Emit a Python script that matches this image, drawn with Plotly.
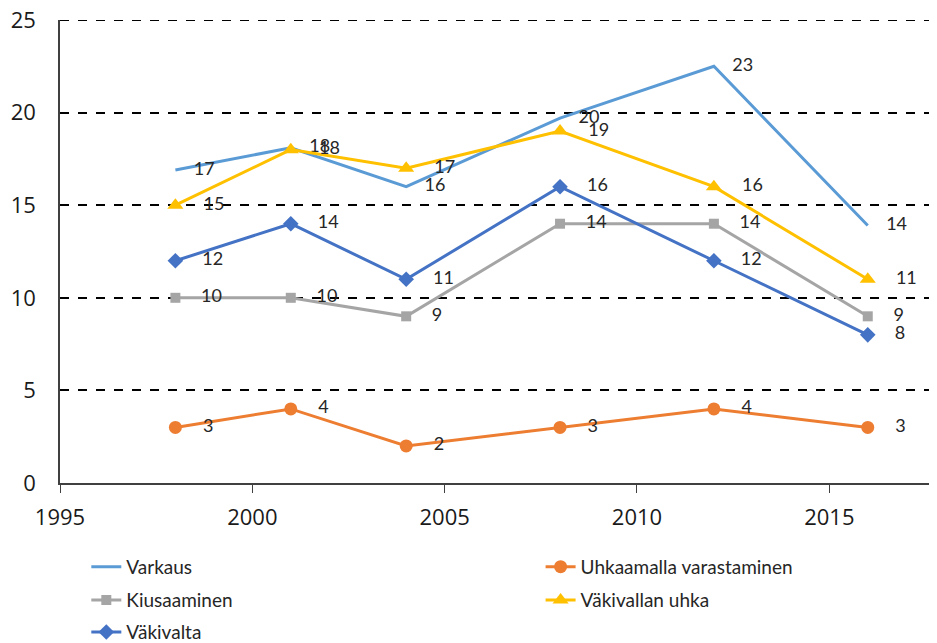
import plotly.graph_objects as go

years = [1998, 2001, 2004, 2008, 2012, 2016]

varkaus = [16.9, 18.1, 16.0, 19.7, 22.5, 13.9]
uhkaamalla = [3, 4, 2, 3, 4, 3]
kiusaaminen = [10, 10, 9, 14, 14, 9]
vakivallan_uhka = [15, 18, 17, 19, 16, 11]
vakivalta = [12, 14, 11, 16, 12, 8]

y_ticks = [0, 5, 10, 15, 20, 25]
x_ticks = [1995, 2000, 2005, 2010, 2015]

# name, values, colour, marker, size
series = [
    ("Varkaus", varkaus, "#5B9BD5", None, 0),
    ("Uhkaamalla varastaminen", uhkaamalla, "#ED7D31", "circle", 13),
    ("Kiusaaminen", kiusaaminen, "#A5A5A5", "square", 10),
    ("Väkivallan uhka", vakivallan_uhka, "#FFC000", "triangle-up", 14),
    ("Väkivalta", vakivalta, "#4472C4", "diamond", 12),
]

# legend slots, two columns, three rows
leg_x = [0.030, 0.548, 0.030, 0.548, 0.030]
leg_y = [-0.181, -0.181, -0.253, -0.253, -0.322]

fig = go.Figure()
layout_legends = {}
for i, (name, vals, color, symbol, size) in enumerate(series):
    key = "legend" if i == 0 else "legend%d" % (i + 1)
    fig.add_trace(go.Scatter(
        x=years, y=vals, name=name, legend=key, showlegend=True,
        mode="lines+markers+text" if symbol else "lines+text",
        line=dict(color=color, width=3),
        marker=dict(symbol=symbol or "circle", size=size, color=color),
        texttemplate="    %{y:.0f}",
        textposition="middle right",
        textfont=dict(family="Lato", size=18, color="#262626"),
    ))
    layout_legends[key] = dict(
        x=leg_x[i], y=leg_y[i], xanchor="left", yanchor="middle",
        font=dict(family="Lato", size=19, color="#262626"),
        bgcolor="rgba(0,0,0,0)", visible=True,
    )

fig.update_layout(
    width=937, height=643,
    margin=dict(l=52, r=8, t=12, b=168, autoexpand=False),
    plot_bgcolor="white", paper_bgcolor="white",
    font=dict(family="Open Sans", color="#262626"),
    showlegend=True,
    **layout_legends,
)

# top gridline sits on the plot edge, where plotly leaves it out
fig.add_hline(y=y_ticks[-1], line=dict(color="black", width=2, dash="dash"))

fig.update_xaxes(
    range=[1995, 2017.8], tickvals=x_ticks,
    showgrid=False, zeroline=False,
    showline=True, linecolor="#404040", linewidth=1.5,
    ticks="outside", ticklen=8, tickcolor="#404040",
    ticklabelstandoff=6,
    tickfont=dict(size=22, color="#1a1a1a"),
)
fig.update_yaxes(
    range=[0, 25], tickvals=y_ticks,
    showgrid=True, gridcolor="black", gridwidth=2, griddash="dash",
    zeroline=False,
    showline=True, linecolor="#404040", linewidth=1.5,
    ticklabelstandoff=18, ticklabeloverflow="allow",
    tickfont=dict(size=22, color="#1a1a1a"),
)

fig.write_html("out.html")
